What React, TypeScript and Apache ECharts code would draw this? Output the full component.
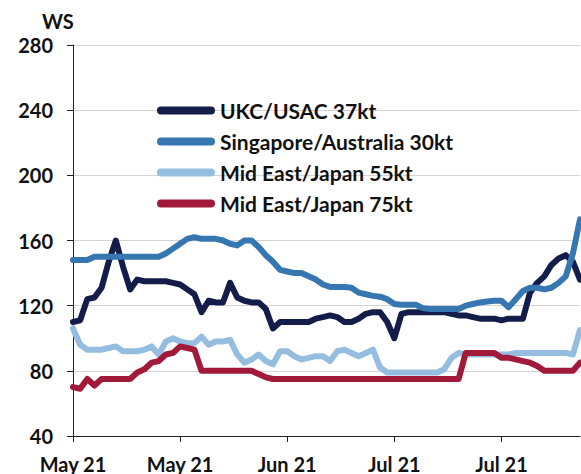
import React, { useEffect, useRef } from "react";
import * as echarts from "echarts";

const seriesNames = [
  "UKC/USAC 37kt",
  "Singapore/Australia 30kt",
  "Mid East/Japan 55kt",
  "Mid East/Japan 75kt",
];

const tickLabels = ["May 21", "May 21", "Jun 21", "Jul 21", "Jul 21"];

const ukcUsac = [
  110, 111, 124, 125, 131, 147, 160, 144, 130, 136,
  135, 135, 135, 135, 134, 133, 130, 127, 116, 123,
  122, 122, 134, 125, 123, 122, 122, 118, 106, 110,
  110, 110, 110, 110, 112, 113, 114, 113, 110, 110,
  112, 115, 116, 116, 110, 100, 115, 116, 116, 116,
  116, 116, 116, 115, 114, 114, 113, 112, 112, 112,
  111, 112, 112, 112, 128, 134, 138, 145, 149, 151,
  147, 136,
];

const singaporeAustralia = [
  148, 148, 148, 150, 150, 150, 150, 150, 150, 150,
  150, 150, 150, 152, 155, 158, 161, 162, 161, 161,
  161, 160, 158, 157, 160, 160, 156, 151, 147, 142,
  141, 140, 140, 138, 136, 133, 131.5, 131.5, 131.5, 131,
  128, 127, 126, 125.5, 124, 121, 120.5, 120.5, 120.5, 118.5,
  118, 118, 118, 118, 118, 120, 121, 122, 122.5, 123,
  123, 119, 124, 129, 131, 131, 130, 131, 134, 138,
  152, 173,
];

const midEastJapan55 = [
  106, 96, 93, 93, 93, 94, 95, 92, 92, 92,
  93, 95, 90, 98, 100, 98, 97, 97, 101, 96,
  98, 98, 99, 90, 85, 87, 90, 86, 84, 92,
  92, 89, 87, 88, 89, 89, 86, 92, 93, 91,
  89, 91, 93, 82, 79, 79, 79, 79, 79, 79,
  79, 79, 81, 88, 91, 90, 90, 90, 90, 90,
  90, 90, 91, 91, 91, 91, 91, 91, 91, 91,
  90, 105,
];

const midEastJapan75 = [
  70, 69, 75, 71, 75, 75, 75, 75, 75, 79,
  81, 85, 86, 90, 91, 95, 94, 93, 80, 80,
  80, 80, 80, 80, 80, 80, 78, 76, 75, 75,
  75, 75, 75, 75, 75, 75, 75, 75, 75, 75,
  75, 75, 75, 75, 75, 75, 75, 75, 75, 75,
  75, 75, 75, 75, 75, 91, 91, 91, 91, 91,
  88, 88, 87, 86, 85, 83, 80, 80, 80, 80,
  80, 85,
];

const colors = ["#141d4a", "#3677b1", "#95bde0", "#a21a3a"];

// business days starting 3 May 2021 (category labels)
const categories: string[] = (() => {
  const out: string[] = [];
  const d = new Date(Date.UTC(2021, 4, 3));
  while (out.length < ukcUsac.length) {
    const wd = d.getUTCDay();
    if (wd !== 0 && wd !== 6) out.push(d.toISOString().slice(0, 10));
    d.setUTCDate(d.getUTCDate() + 1);
  }
  return out;
})();

const FONT = "Lato, 'Open Sans', sans-serif";
const W = "bold";
const FS = 20;

export default function App() {
  const ref = useRef<HTMLDivElement>(null);
  useEffect(() => {
    if (!ref.current) return;
    const chart = echarts.init(ref.current, null, { renderer: "svg" });
    const data = [ukcUsac, singaporeAustralia, midEastJapan55, midEastJapan75];
    chart.setOption({
      animation: false,
      backgroundColor: "#ffffff",
      textStyle: { fontFamily: FONT },
      graphic: [
        {
          type: "text",
          left: 42,
          top: 11,
          style: {
            text: "WS",
            font: `${W} ${FS}px ${FONT}`,
            fill: "#111111",
          },
        },
      ],
      legend: {
        orient: "vertical",
        left: 157,
        top: 100,
        padding: 0,
        itemWidth: 58,
        itemHeight: 8,
        itemGap: 10,
        icon: "path://M4,0 L54,0 A4,4 0 0 1 54,8 L4,8 A4,4 0 0 1 4,0 Z",
        textStyle: {
          fontFamily: FONT,
          fontSize: 21,
          fontWeight: W,
          color: "#111111",
          lineHeight: 20,
        },
        data: seriesNames,
      },
      grid: { left: 73, top: 45, right: 1, bottom: 38 },
      xAxis: {
        type: "category",
        boundaryGap: false,
        data: categories,
        axisLine: { show: true, lineStyle: { color: "#222222", width: 1 } },
        axisTick: { show: true, interval: 14, length: 6, lineStyle: { color: "#222222" } },
        axisLabel: {
          interval: 14,
          margin: 18,
          fontFamily: FONT,
          fontSize: FS,
          fontWeight: W,
          color: "#111111",
          formatter: (_v: string, i: number) => tickLabels[Math.round(i / 15)] ?? "",
        },
        splitLine: { show: false },
      },
      yAxis: {
        type: "value",
        min: 40,
        max: 280,
        interval: 40,
        axisLine: { show: true, lineStyle: { color: "#222222", width: 1 } },
        axisTick: { show: true, length: 6, lineStyle: { color: "#222222" } },
        axisLabel: {
          margin: 20,
          fontFamily: FONT,
          fontSize: FS,
          fontWeight: W,
          color: "#111111",
        },
        splitLine: { show: true, lineStyle: { color: "#d4d4d4", width: 1 } },
      },
      series: seriesNames.map((name, k) => ({
        name,
        type: "line",
        data: data[k],
        symbol: "none",
        color: colors[k],
        lineStyle: { width: 6, color: colors[k], cap: "round", join: "round" },
      })),
    });
    return () => chart.dispose();
  }, []);
  return (
    <div
      ref={ref}
      style={{ position: "fixed", left: 0, top: 0, width: 581, height: 474 }}
    />
  );
}
